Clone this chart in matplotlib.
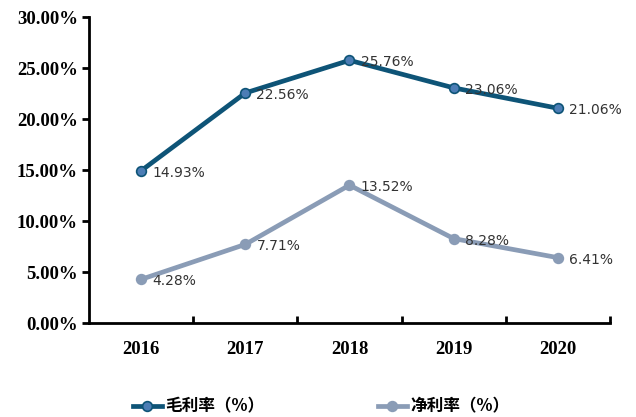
import matplotlib.pyplot as plt
from matplotlib.ticker import FuncFormatter

plt.rcParams['font.family'] = ['DejaVu Sans']

years = ['2016', '2017', '2018', '2019', '2020']
gross_margin = [14.93, 22.56, 25.76, 23.06, 21.06]
net_margin = [4.28, 7.71, 13.52, 8.28, 6.41]
labels = ['毛利率（%）', '净利率（%）']

dark = '#0E5477'
dark_mk = '#4C7DB5'
grey = '#8A9CB6'
grey_mk = '#8A9CB6'

fig = plt.figure(figsize=(6.36, 4.17), dpi=100)
ax = fig.add_axes([0.140, 0.2254, 0.819, 0.7336])

x = range(len(years))
ax.plot(x, gross_margin, color=dark, lw=3.4, marker='o', ms=7,
        mfc=dark_mk, mec=dark, mew=1.2, label=labels[0], zorder=3)
ax.plot(x, net_margin, color=grey, lw=3.4, marker='o', ms=7,
        mfc=grey_mk, mec=grey, mew=1.2, label=labels[1], zorder=3)

for xs, ys in ((x, gross_margin), (x, net_margin)):
    for xi, yi in zip(xs, ys):
        ax.annotate('{:.2f}%'.format(yi), (xi, yi), xytext=(8, -1.5),
                    textcoords='offset points', ha='left', va='center',
                    fontsize=10, color='#333333', zorder=4)

ax.set_xlim(-0.5, 4.5)
ax.set_ylim(0, 30)
ax.set_yticks(range(0, 31, 5))
ax.yaxis.set_major_formatter(FuncFormatter(lambda v, p: '{:.2f}%'.format(v)))
ax.set_xticks([i + 0.5 for i in range(5)])
ax.set_xticklabels([])
ax.set_xticks(list(x), minor=True)
ax.set_xticklabels(years, minor=True)

for s in ('top', 'right'):
    ax.spines[s].set_visible(False)
for s in ('left', 'bottom'):
    ax.spines[s].set_linewidth(2)
    ax.spines[s].set_color('black')

ax.tick_params(axis='y', direction='out', length=5, width=2,
               labelsize=13.5, pad=3)
ax.tick_params(axis='x', which='major', direction='in', length=5, width=2)
ax.tick_params(axis='x', which='minor', length=0, labelsize=13.5, pad=13)
for t in ax.get_yticklabels() + ax.get_xticklabels(minor=True):
    t.set_fontfamily('Liberation Serif')
    t.set_fontweight('bold')

leg = fig.legend(loc='lower center', bbox_to_anchor=(0.505, -0.032), ncol=2,
                 frameon=False, columnspacing=6.8, handlelength=1.75,
                 handletextpad=0.2,
                 prop={'family': ['Noto Sans CJK SC', 'DejaVu Sans'],
                       'weight': 'bold', 'size': 12})

fig.savefig('out.png', dpi=100)
